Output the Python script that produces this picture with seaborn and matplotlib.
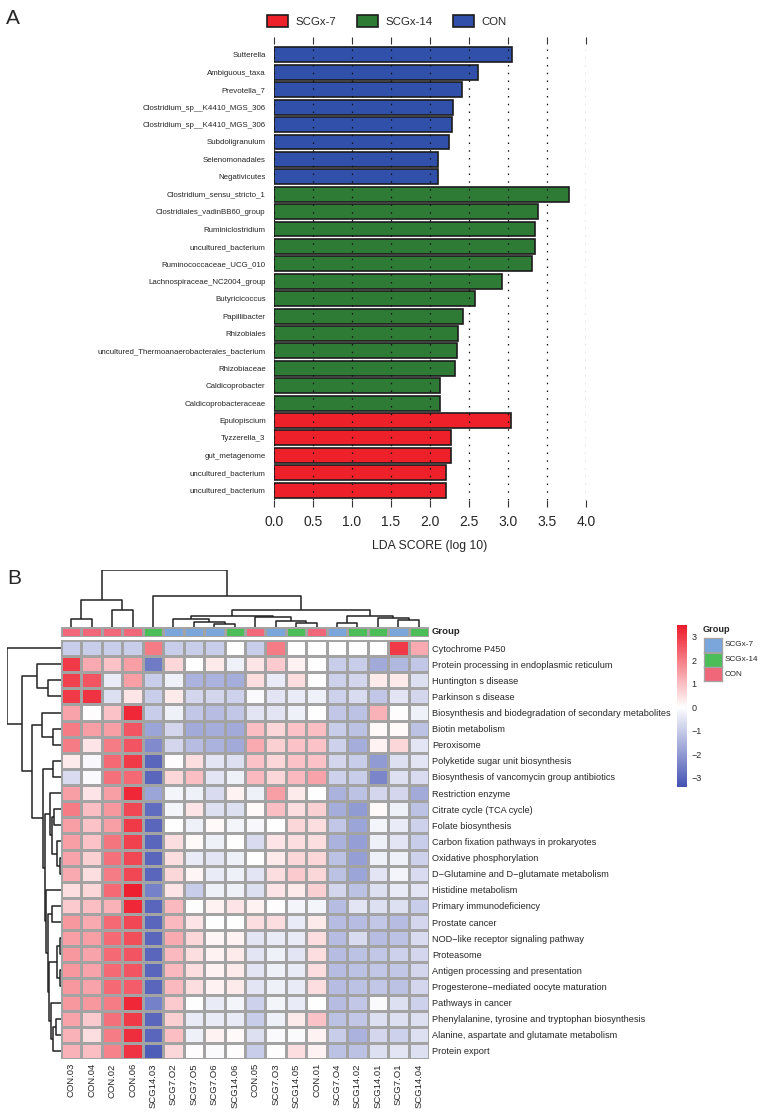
import numpy as np
import pandas as pd
import matplotlib
matplotlib.use("Agg")
import matplotlib.pyplot as plt
import seaborn as sns
from matplotlib.patches import Patch
from matplotlib.colors import LinearSegmentedColormap, ListedColormap

# ---------------- data: panel A (LEfSe LDA) ----------------
taxa = ["Sutterella", "Ambiguous_taxa", "Prevotella_7", "Clostridium_sp__K4410_MGS_306",
        "Clostridium_sp__K4410_MGS_306", "Subdoligranulum", "Selenomonadales", "Negativicutes",
        "Clostridium_sensu_stricto_1", "Clostridiales_vadinBB60_group", "Ruminiclostridium",
        "uncultured_bacterium", "Ruminococcaceae_UCG_010", "Lachnospiraceae_NC2004_group",
        "Butyricicoccus", "Papillibacter", "Rhizobiales",
        "uncultured_Thermoanaerobacterales_bacterium", "Rhizobiaceae", "Caldicoprobacter",
        "Caldicoprobacteraceae", "Epulopiscium", "Tyzzerella_3", "gut_metagenome",
        "uncultured_bacterium", "uncultured_bacterium"]
lda_scores = [3.05, 2.61, 2.41, 2.29, 2.28, 2.24, 2.10, 2.10,
              3.78, 3.38, 3.34, 3.34, 3.31, 2.92, 2.58, 2.42, 2.36, 2.34, 2.32, 2.13, 2.13,
              3.04, 2.27, 2.27, 2.20, 2.20]
lda_groups = ["CON"] * 8 + ["SCGx-14"] * 13 + ["SCGx-7"] * 5
legend_order = ["SCGx-7", "SCGx-14", "CON"]
bar_colors = {"SCGx-7": "#EE2029", "SCGx-14": "#2E7B36", "CON": "#3050AA"}

# ---------------- data: panel B (KEGG heatmap, z-scores) ----------------
samples = ["CON.03", "CON.04", "CON.02", "CON.06", "SCG14.03", "SCG7.O2", "SCG7.O5", "SCG7.O6",
           "SCG14.06", "CON.05", "SCG7.O3", "SCG14.05", "CON.01", "SCG7.O4", "SCG14.02",
           "SCG14.01", "SCG7.O1", "SCG14.04"]
sample_group = ["CON", "CON", "CON", "CON", "SCGx-14", "SCGx-7", "SCGx-7", "SCGx-7", "SCGx-14",
                "CON", "SCGx-7", "SCGx-14", "CON", "SCGx-7", "SCGx-14", "SCGx-14", "SCGx-7", "SCGx-14"]
pathways = ["Cytochrome P450", "Protein processing in endoplasmic reticulum", "Huntington s disease",
            "Parkinson s disease", "Biosynthesis and biodegradation of secondary metabolites",
            "Biotin metabolism", "Peroxisome", "Polyketide sugar unit biosynthesis",
            "Biosynthesis of vancomycin group antibiotics", "Restriction enzyme",
            "Citrate cycle (TCA cycle)", "Folate biosynthesis", "Carbon fixation pathways in prokaryotes",
            "Oxidative phosphorylation", "D\u2212Glutamine and D\u2212glutamate metabolism",
            "Histidine metabolism", "Primary immunodeficiency", "Prostate cancer",
            "NOD\u2212like receptor signaling pathway", "Proteasome", "Antigen processing and presentation",
            "Progesterone\u2212mediated oocyte maturation", "Pathways in cancer",
            "Phenylalanine, tyrosine and tryptophan biosynthesis",
            "Alanine, aspartate and glutamate metabolism", "Protein export"]
kegg_z = [
    [-1.0, -1.0, -1.0, -1.0, 2.0, -1.0, -1.0, -1.0, 0.0, -1.0, 2.0, 0.0, 0.0, 0.0, 0.0, 0.0, 3.0, 1.3],
    [3.0, 1.3, 0.9, 1.5, -2.6, 0.6, 0.0, 0.3, -0.3, 0.4, 0.8, 0.2, 0.0, -1.0, -1.0, -1.7, -1.4, -1.1],
    [2.9, 2.6, -0.4, 1.5, -1.0, -0.3, -1.5, -1.5, -1.6, 0.5, -0.4, 0.5, 0.0, -0.9, -0.8, 0.3, 0.3, -0.6],
    [3.0, 3.1, -0.6, 0.4, -1.0, 0.3, -0.8, -0.8, -0.9, -0.1, -0.5, -0.4, -0.3, -0.9, -0.7, -1.1, -0.5, -0.8],
    [1.4, 0.05, 0.9, 3.3, -1.0, -0.3, -1.1, -1.3, -1.1, -0.5, -0.5, -0.3, 0.0, -1.1, -1.2, 1.2, 0.05, -0.3],
    [2.0, 1.5, 1.5, 2.6, -1.8, -0.8, -1.7, -1.6, -1.7, 1.0, 0.6, 0.9, 1.0, -1.0, -1.2, 0.1, 0.1, -1.2],
    [2.0, 0.4, 2.0, 2.6, -2.3, -0.8, -1.3, -1.5, -1.7, 1.3, 0.7, 0.9, 0.9, -0.9, -1.6, 0.2, 0.6, -0.5],
    [0.3, -0.15, 2.3, 3.0, -3.0, 0.05, 0.5, -0.5, -0.6, 0.9, 0.6, 0.9, 0.9, -0.8, -1.0, -2.0, -0.6, -0.5],
    [-0.7, -0.1, 2.2, 2.3, -3.0, 0.6, 1.0, -0.5, -0.3, 1.1, 0.6, 1.1, 1.4, -0.9, -1.0, -2.4, -0.6, -0.7],
    [1.5, 0.4, 1.5, 3.3, -1.8, -0.2, -0.3, -0.7, 0.2, -0.3, 1.5, 0.3, 0.0, -1.5, -1.2, -0.8, -0.8, -1.7],
    [2.0, 1.0, 1.6, 2.8, -2.9, -0.2, 0.4, -0.6, -0.6, 0.1, 1.0, 0.5, 0.7, -1.6, -2.0, 0.1, -0.3, -1.2],
    [1.5, 0.9, 1.5, 3.0, -3.0, 0.0, -0.3, 0.1, -0.2, -0.15, 0.0, 0.6, 0.5, -1.1, -1.8, -0.2, -0.4, -0.9],
    [1.5, 0.9, 2.1, 2.9, -3.0, 0.5, 0.1, -0.3, 0.0, -0.7, 0.4, 0.5, 0.5, -1.5, -1.9, -0.3, -0.5, -1.0],
    [1.4, 0.7, 2.2, 2.8, -3.0, 0.5, -0.4, -0.5, -0.3, 0.0, 0.3, 0.6, 0.6, -1.2, -1.9, -0.3, -0.3, -0.9],
    [1.3, 0.5, 2.0, 2.8, -3.0, 0.6, 0.15, -0.4, -0.3, -0.5, 0.5, 0.8, 0.6, -1.2, -1.8, -0.5, -0.2, -0.7],
    [0.5, 0.6, 2.3, 3.4, -2.5, 0.4, -1.0, -0.3, -0.3, -0.6, 0.4, 0.3, 0.7, -0.8, -1.2, -0.6, -0.4, -0.5],
    [0.8, 1.0, 1.2, 3.3, -3.0, 1.1, -0.05, 0.2, 0.4, 0.2, 0.05, -0.2, -0.2, -1.3, -0.5, -0.6, -0.6, -1.0],
    [1.6, 1.3, 2.3, 2.8, -3.0, 1.1, 0.4, 0.0, 0.0, 0.5, 0.5, -0.4, 0.3, -1.3, -1.3, -1.1, -1.3, -0.8],
    [1.5, 1.5, 2.3, 2.7, -3.0, 1.3, 0.6, 0.15, 0.2, -0.5, -0.4, -0.4, 0.5, -1.3, -0.7, -1.3, -1.2, -0.7],
    [1.6, 1.4, 2.3, 2.6, -3.0, 1.1, 0.5, 0.2, 0.3, -0.5, -0.3, -0.5, 0.5, -1.3, -1.2, -1.1, -0.9, -0.8],
    [1.6, 1.4, 2.3, 2.6, -3.0, 1.1, 0.5, 0.2, 0.3, -0.5, -0.3, -0.4, 0.5, -1.3, -1.2, -1.1, -1.1, -0.8],
    [1.6, 1.4, 2.3, 2.5, -3.0, 1.1, 0.5, 0.2, 0.3, -0.5, -0.3, -0.4, 0.5, -1.3, -1.2, -1.1, -1.2, -0.8],
    [1.6, 1.6, 2.0, 3.3, -2.5, 0.8, 0.0, -0.4, -0.2, -0.9, -0.2, -0.4, 0.0, -1.3, -1.1, -0.1, -0.6, -0.9],
    [1.4, 0.8, 2.2, 3.0, -3.0, 0.7, -0.4, -0.4, -0.4, -1.0, -0.3, 0.3, 0.9, -1.2, -1.1, -0.6, -0.6, -0.6],
    [1.2, 0.5, 2.0, 3.2, -3.0, 1.0, -0.3, 0.2, 0.1, -0.6, -0.1, -0.1, 0.2, -1.0, -1.5, -0.8, -0.9, -0.6],
    [1.2, 1.0, 1.9, 3.1, -3.2, 0.6, 0.05, -0.1, 0.05, -1.0, 0.05, 0.5, 0.2, -1.2, -1.2, -0.6, -0.5, -0.6],
]
group_colors = {"SCGx-7": "#7AA6DC", "SCGx-14": "#4BBE58", "CON": "#F0677A"}

# dendrograms: (merge height, left, right), leaves = display index
col_tree = (170, (80, (25, 0, 1), (50, 2, 3)),
            (92, 4, (52, (34, (25, 5, (15, 6, (8, 7, 8))), (30, 9, (18, 10, (12, 11, 12)))),
                     (34, (12, 13, 14), (26, 15, (22, 16, 17))))))
row_rest = (16.5, (11, 9, (9, (7, 10, 11), (4, 12, (1.5, 13, 14)))),
            (15, 15, (13.5, (9, 16, 17),
                      (12, (4, (1.5, 18, 19), (1.5, 20, 21)), (10, 22, (8, (5, 23, 24), 25))))))
row_tree = (54, 0, (39.3, (24, 1, (13, 2, 3)),
                    (29.3, (19, 4, (8, 5, 6)), (17.7, (8, 7, 8), row_rest))))

# ---------------- figure ----------------
W, H = 761, 1113
sns.set_theme(style="white")
plt.rcParams["font.family"] = ["Liberation Sans", "DejaVu Sans"]
fig = plt.figure(figsize=(W / 100, H / 100), dpi=100)


def box(x0, y0, x1, y1):
    return [x0 / W, 1 - y1 / H, (x1 - x0) / W, (y1 - y0) / H]


# ---- panel A
axA = fig.add_axes(box(274, 44, 586, 500))
df_lda = pd.DataFrame({"pos": [str(i) for i in range(len(taxa))], "lda": lda_scores, "group": lda_groups})
sns.barplot(data=df_lda, x="lda", y="pos", hue="group", palette=bar_colors, dodge=False,
            width=0.86, edgecolor="#1c1c1c", linewidth=1.2, errorbar=None, legend=False,
            saturation=1, orient="h", ax=axA)
axA.set_ylim(25.57, -0.63)
axA.set_yticks(range(len(taxa)))
axA.set_yticklabels(taxa, fontsize=5.7)
axA.set_xlim(0, 4)
ticks = np.arange(0, 4.01, 0.5)
axA.set_xticks(ticks)
axA.set_xticklabels([f"{t:.1f}" for t in ticks], fontsize=10)
axA.tick_params(axis="x", top=True, bottom=True, direction="out", length=5, width=0.8,
                color="#333333", pad=6, labeltop=False)
axA.tick_params(axis="y", length=0, pad=6)
axA.xaxis.grid(True, color="#111111", linestyle=(0, (1.2, 5)), linewidth=0.9)
axA.set_axisbelow(False)
for s in axA.spines.values():
    s.set_visible(False)
axA.set_xlabel("LDA SCORE (log 10)", fontsize=8.8, labelpad=8)
axA.set_ylabel("")

handles = [Patch(facecolor=bar_colors[g], edgecolor="#1c1c1c", linewidth=1.2, label=g) for g in legend_order]
fig.legend(handles=handles, loc="center", bbox_to_anchor=(387 / W, 1 - 21 / H), ncol=3, frameon=False,
           prop={"size": 8.2}, handlelength=1.8, handleheight=1.35,
           columnspacing=1.8, handletextpad=0.7)

fig.text(6 / W, 1 - 19 / H, "A", fontsize=15, va="center", ha="left")
fig.text(7 / W, 1 - 579 / H, "B", fontsize=15, va="center", ha="left")

# ---- panel B heatmap
cmap = LinearSegmentedColormap.from_list("bwr_ph", ["#3F4FB2", "#FFFFFF", "#EE1C2C"])
df_z = pd.DataFrame(kegg_z, index=pathways, columns=samples)
axH = fig.add_axes(box(61, 640, 429, 1059))
cax = fig.add_axes(box(677, 625, 687, 787))
sns.heatmap(df_z, ax=axH, cmap=cmap, center=0, vmin=-3.4, vmax=3.5, linewidths=0.9,
            linecolor="#A3A3A3", cbar_ax=cax, xticklabels=samples, yticklabels=pathways)
axH.yaxis.tick_right()
axH.tick_params(axis="y", length=0, pad=2, labelsize=6.6, labelrotation=0)
axH.tick_params(axis="x", length=0, pad=3, labelsize=6.8, labelrotation=90)
axH.set_xlabel("")
axH.set_ylabel("")
cax.tick_params(length=0, labelsize=6.5, pad=3)
cax.set_yticks([-3, -2, -1, 0, 1, 2, 3])
cax.set_yticklabels(["\u22123", "\u22122", "\u22121", "0", "1", "2", "3"])

# group annotation row
grp_codes = [legend_order.index(g) for g in sample_group]
axG = fig.add_axes(box(61, 627, 429, 637))
sns.heatmap([grp_codes], ax=axG, cmap=ListedColormap([group_colors[g] for g in legend_order]),
            vmin=-0.5, vmax=2.5, cbar=False, linewidths=0.9, linecolor="#A3A3A3",
            xticklabels=False, yticklabels=False)
axG.text(1.008, 0.5, "Group", transform=axG.transAxes, fontsize=6.8, fontweight="bold",
         va="center", ha="left")

# group legend
fig.text(703 / W, 1 - 629 / H, "Group", fontsize=6.6, fontweight="bold", va="center", ha="left")
for k, g in enumerate(legend_order):
    yc = 645 + 14.5 * k
    axL = fig.add_axes(box(704, yc - 7, 722, yc + 7))
    axL.set_facecolor(group_colors[g])
    axL.set_xticks([])
    axL.set_yticks([])
    for s in axL.spines.values():
        s.set_color("#A3A3A3")
        s.set_linewidth(0.9)
    fig.text(725 / W, 1 - yc / H, g, fontsize=5.9, va="center", ha="left")


# dendrograms
def draw_tree(ax, node, top):
    if isinstance(node, int):
        return node + 0.5, 0
    h, left, right = node
    pl, hl = draw_tree(ax, left, top)
    pr, hr = draw_tree(ax, right, top)
    if top:
        ax.plot([pl, pl, pr, pr], [hl, h, h, hr], color="#222222", lw=1.1, solid_capstyle="butt")
    else:
        ax.plot([hl, h, h, hr], [pl, pl, pr, pr], color="#222222", lw=1.1, solid_capstyle="butt")
    return (pl + pr) / 2, h


axD = fig.add_axes(box(61, 570, 429, 627))
draw_tree(axD, col_tree, True)
axD.set_xlim(0, len(samples))
axD.set_ylim(0, 170.5)
axD.axis("off")

axR = fig.add_axes(box(7, 640, 61, 1059))
draw_tree(axR, row_tree, False)
axR.set_xlim(54.3, 0)
axR.set_ylim(len(pathways), 0)
axR.axis("off")

fig.savefig("out.png", dpi=100)
